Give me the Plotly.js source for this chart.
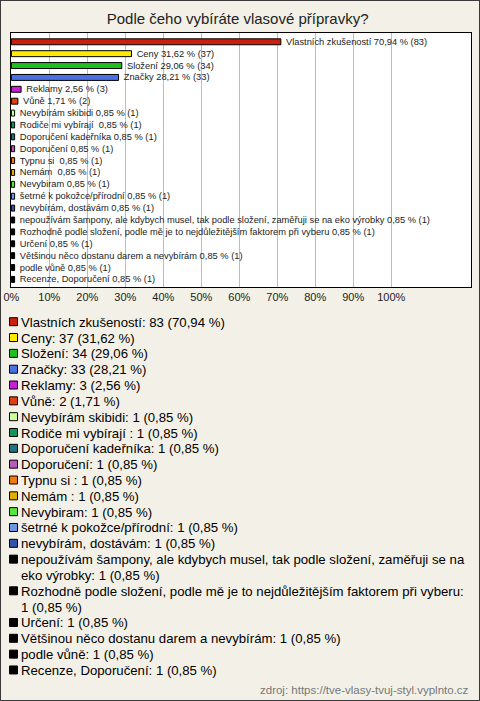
<!DOCTYPE html>
<html>
<head>
<meta charset="utf-8">
<script src="https://cdn.plot.ly/plotly-3.0.1.min.js"></script>
<style>
  html, body { margin: 0; padding: 0; background: #f3f1e7; }
  #wrap { position: relative; width: 480px; height: 701px; }
  #chart { width: 480px; height: 701px; }
  #frame { position: absolute; left: 0; top: 0; width: 480px; height: 701px; box-sizing: border-box; border: 1px solid #3a3a3a; pointer-events: none; }
</style>
</head>
<body>
<div id="wrap"><div id="chart"></div><div id="frame"></div></div>
<script>
const categories = [
  "Vlastních zkušeností", "Ceny", "Složení", "Značky", "Reklamy", "Vůně",
  "Nevybírám skibidi", "Rodiče mi vybírají ", "Doporučení kadeřníka", "Doporučení",
  "Typnu si ", "Nemám ", "Nevybiram", "šetrné k pokožce/přírodní", "nevybírám, dostávám",
  "nepoužívám šampony, ale kdybych musel, tak podle složení, zaměřuji se na eko výrobky",
  "Rozhodně podle složení, podle mě je to nejdůležitějším faktorem při vyberu",
  "Určení", "Většinou něco dostanu darem a nevybírám", "podle vůně", "Recenze, Doporučení"
];
const counts = [83, 37, 34, 33, 3, 2, 1, 1, 1, 1, 1, 1, 1, 1, 1, 1, 1, 1, 1, 1, 1];
const percents = [70.94, 31.62, 29.06, 28.21, 2.56, 1.71, 0.85, 0.85, 0.85, 0.85, 0.85, 0.85, 0.85, 0.85, 0.85, 0.85, 0.85, 0.85, 0.85, 0.85, 0.85];
const colors = [
  "#c8200c", "#ffea00", "#1fbf1f", "#4b70e4", "#c81ed6", "#e0400e",
  "#ccff99", "#12955a", "#1f7484", "#b85bbb", "#ee7a10", "#e0b000",
  "#55e83a", "#6f96e0", "#3353aa", "#000000", "#000000", "#000000",
  "#000000", "#000000", "#000000"
];
const xTickVals = [0, 10, 20, 30, 40, 50, 60, 70, 80, 90, 100];
const xTickText = ["0%", "10%", "20%", "30%", "40%", "50%", "60%", "70%", "80%", "90%", "100%"];
const titleText = "Podle čeho vybíráte vlasové přípravky?";
const sourceText = "zdroj: https://tve-vlasy-tvuj-styl.vyplnto.cz";

const fmt = v => v.toFixed(2).replace(".", ",");
const n = categories.length;

// Layout geometry (pixels)
const W = 480, H = 701;
const M = { l: 11, r: 9, t: 33, b: 414 };
const PW = W - M.l - M.r, PH = H - M.t - M.b;
const px2x = p => (p - M.l) / PW;
const py2y = p => (H - M.b - p) / PH;

const barTrace = {
  type: "bar",
  orientation: "h",
  x: percents,
  y: categories.map((c, i) => i),
  width: 0.5,
  marker: { color: colors, line: { color: "#000", width: 1 } },
  text: categories.map((c, i) => "\u00a0\u00a0" + c + " " + fmt(percents[i]) + " % (" + counts[i] + ")"),
  textposition: "outside",
  constraintext: "none",
  cliponaxis: false,
  textfont: { family: "Liberation Sans, Arial, sans-serif", size: 9.3, color: "#222" },
  hoverinfo: "none",
  showlegend: false
};

// Custom legend below the plot
const canvas = document.createElement("canvas");
const ctx = canvas.getContext("2d");
ctx.font = '13.2px "Liberation Sans", Arial, sans-serif';
function wrap(text, maxW) {
  const words = text.split(" ");
  const lines = [];
  let cur = "";
  for (const w of words) {
    const test = cur ? cur + " " + w : w;
    if (cur && ctx.measureText(test).width > maxW) { lines.push(cur); cur = w; }
    else cur = test;
  }
  if (cur) lines.push(cur);
  return lines;
}

const annotations = [];
const shapes = [];
let yPix = 321.7;
const step = 15.83;
categories.forEach((c, i) => {
  const label = c + ": " + counts[i] + " (" + fmt(percents[i]) + " %)";
  const lines = wrap(label, 448);
  shapes.push({
    type: "rect", xref: "paper", yref: "paper",
    x0: px2x(9.5), x1: px2x(17.5), y0: py2y(yPix + 4), y1: py2y(yPix - 4),
    fillcolor: colors[i], line: { color: "#000", width: 1 }
  });
  lines.forEach(line => {
    annotations.push({
      xref: "paper", yref: "paper", x: px2x(19), y: py2y(yPix + 0.5),
      xanchor: "left", yanchor: "middle", showarrow: false, text: line,
      font: { family: "Liberation Sans, Arial, sans-serif", size: 13.2, color: "#000" }
    });
    yPix += step;
  });
});
annotations.push({
  xref: "paper", yref: "paper", x: px2x(471), y: py2y(690),
  xanchor: "right", yanchor: "middle", showarrow: false, text: sourceText,
  font: { family: "Liberation Sans, Arial, sans-serif", size: 11.5, color: "#777" }
});

const layout = {
  width: W, height: H,
  margin: M,
  paper_bgcolor: "#f3f1e7",
  plot_bgcolor: "#ffffff",
  title: {
    text: titleText, x: 0.495, xanchor: "center", y: 1 - 19 / H, yanchor: "middle",
    font: { family: "Liberation Sans, Arial, sans-serif", size: 15, color: "#222" }
  },
  xaxis: {
    range: [-0.1, 121], tickvals: xTickVals, ticktext: xTickText,
    showgrid: true, gridcolor: "#bdbdbd", gridwidth: 1, zeroline: false,
    showline: true, mirror: true, linecolor: "#000", linewidth: 1, ticks: "",
    tickfont: { family: "Liberation Sans, Arial, sans-serif", size: 11, color: "#222" },
    fixedrange: true
  },
  yaxis: {
    range: [n - 1 + 0.64, -0.74], showticklabels: false, showgrid: false, zeroline: false,
    showline: true, mirror: true, linecolor: "#000", linewidth: 1, ticks: "", fixedrange: true
  },
  bargap: 0.5,
  annotations: annotations,
  shapes: shapes,
  showlegend: false
};

Plotly.newPlot("chart", [barTrace], layout, { displayModeBar: false, staticPlot: true });
</script>
</body>
</html>
